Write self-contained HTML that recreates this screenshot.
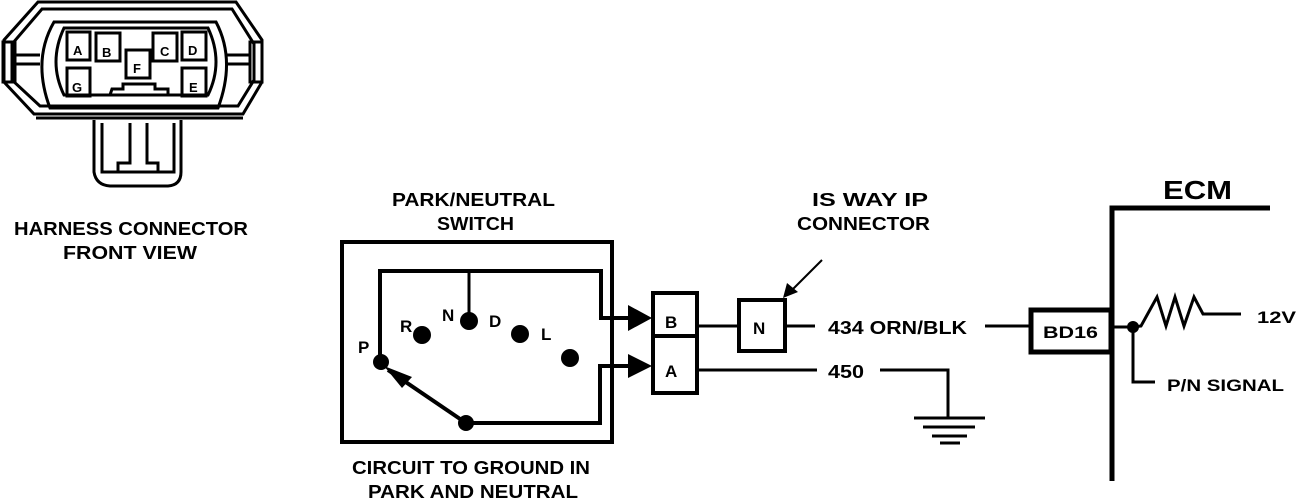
<!DOCTYPE html>
<html><head><meta charset="utf-8"><style>
html,body{margin:0;padding:0;background:#fff;}
svg{display:block;}
text{font-family:"Liberation Sans",sans-serif;font-weight:bold;fill:#000;}
</style></head><body>
<svg width="1312" height="502" viewBox="0 0 1312 502" xmlns="http://www.w3.org/2000/svg">
<g fill="none" stroke="#000" stroke-width="3">
  <path d="M38 2 L236 2 L262 40 L262 82 L243 114 L34 114 L4 82 L4 40 Z"/>
  <path d="M42 9 L232 9 L254 44 L254 80 L238 106 L40 106 L12 80 L12 44 Z"/>
  <path d="M54 22 L216 22 Q236 60 218 108 L50 108 Q32 60 54 22 Z"/>
  <path d="M64 28 L208 28 Q224 62 208 95 L64 95 Q48 62 64 28 Z"/>
  <line x1="36" y1="118" x2="243" y2="118"/>
  <rect x="3" y="42" width="12" height="40"/>
  <rect x="250" y="42" width="12" height="40"/>
  <line x1="15" y1="55" x2="40" y2="55"/><line x1="15" y1="64" x2="40" y2="64"/>
  <line x1="226" y1="55" x2="250" y2="55"/><line x1="226" y1="64" x2="250" y2="64"/>
  <rect x="67" y="32" width="23" height="28"/>
  <rect x="96" y="33" width="24" height="28"/>
  <rect x="126" y="50" width="24" height="28"/>
  <rect x="153" y="33" width="24" height="28"/>
  <rect x="182" y="32" width="24" height="28"/>
  <rect x="67" y="68" width="23" height="28"/>
  <rect x="182" y="68" width="24" height="28"/>
  <path d="M110 95 L112 89 L123 89 L123 84 L155 84 L155 89 L168 89 L168 95"/>
  <path d="M94 120 L94 172 Q96 185 110 186 L168 186 Q181 185 181 172 L181 120"/>
  <path d="M102 123 L102 172 L174 172 L174 123"/>
  <path d="M130 123 L130 163 L118 163 L118 172 M147 123 L147 163 L158 163 L158 172"/>
</g>
<g font-size="13">
  <text x="73" y="55">A</text><text x="102" y="57">B</text><text x="133" y="73">F</text>
  <text x="160" y="56">C</text><text x="188" y="55">D</text><text x="72" y="92">G</text><text x="189" y="92">E</text>
</g>
<text x="14" y="235" font-size="18" textLength="234" lengthAdjust="spacingAndGlyphs">HARNESS CONNECTOR</text>
<text x="63" y="259" font-size="18" textLength="134" lengthAdjust="spacingAndGlyphs">FRONT  VIEW</text>

<text x="392" y="206" font-size="18" textLength="163" lengthAdjust="spacingAndGlyphs">PARK/NEUTRAL</text>
<text x="437" y="230" font-size="18" textLength="77" lengthAdjust="spacingAndGlyphs">SWITCH</text>
<text x="352" y="474" font-size="18" textLength="238" lengthAdjust="spacingAndGlyphs">CIRCUIT TO GROUND IN</text>
<text x="368" y="498" font-size="18" textLength="210" lengthAdjust="spacingAndGlyphs">PARK AND NEUTRAL</text>
<g fill="none" stroke="#000">
  <rect x="342" y="242" width="270" height="200" stroke-width="4"/>
  <path d="M380 362 L380 271 L601 271 L601 318 L640 318" stroke-width="4"/>
  <line x1="469" y1="271" x2="469" y2="320" stroke-width="3"/>
  <path d="M466 423 L600 423 L600 366 L640 366" stroke-width="4"/>
  <line x1="466" y1="423" x2="388" y2="370" stroke-width="4"/>
  <rect x="653" y="293" width="44" height="43" stroke-width="4"/>
  <rect x="653" y="336" width="44" height="57" stroke-width="4"/>
  <rect x="739" y="300" width="46" height="51" stroke-width="4"/>
  <line x1="697" y1="326" x2="739" y2="326" stroke-width="3"/>
  <line x1="785" y1="326" x2="815" y2="326" stroke-width="3"/>
  <line x1="985" y1="326" x2="1032" y2="326" stroke-width="3"/>
  <line x1="697" y1="370" x2="817" y2="370" stroke-width="3"/>
  <path d="M880 370 L948 370 L948 418" stroke-width="3"/>
  <line x1="914" y1="418" x2="985" y2="418" stroke-width="3"/>
  <line x1="923" y1="427" x2="975" y2="427" stroke-width="3"/>
  <line x1="932" y1="436" x2="967" y2="436" stroke-width="3"/>
  <line x1="940" y1="443" x2="960" y2="443" stroke-width="3"/>
  <line x1="822" y1="260" x2="790" y2="292" stroke-width="2"/>
  <rect x="1031" y="310" width="80" height="42" stroke-width="5"/>
  <path d="M1112 481 L1112 208 L1270 208" stroke-width="5"/>
  <line x1="1112" y1="327" x2="1133" y2="327" stroke-width="3"/>
  <path d="M1133 327 L1133 382 L1155 382" stroke-width="3"/>
  <path d="M1133 327 L1141 326 L1157 297 L1166 326 L1175 297 L1184 326 L1194 297 L1203 314 L1215 314 L1241 314" stroke-width="3"/>
</g>
<g fill="#000">
  <circle cx="381" cy="362" r="8"/>
  <circle cx="422" cy="335" r="9"/>
  <circle cx="469" cy="321" r="9"/>
  <circle cx="520" cy="334" r="9"/>
  <circle cx="570" cy="358" r="9"/>
  <circle cx="466" cy="423" r="8"/>
  <circle cx="1133" cy="327" r="6"/>
  <polygon points="628,305 652,318 628,331"/>
  <polygon points="628,354 652,366 628,378"/>
  <polygon points="384,366 412,377 402,388"/>
  <polygon points="783,298 787,283 798,292"/>
</g>
<g font-size="17">
  <text x="358" y="353">P</text><text x="400" y="332">R</text><text x="442" y="321">N</text>
  <text x="489" y="327">D</text><text x="541" y="340">L</text>
  <text x="665" y="328">B</text><text x="665" y="377">A</text>
  <text x="753" y="334">N</text>
</g>
<text x="812" y="206" font-size="18" textLength="116" lengthAdjust="spacingAndGlyphs">IS WAY IP</text>
<text x="797" y="230" font-size="18" textLength="133" lengthAdjust="spacingAndGlyphs">CONNECTOR</text>
<text x="828" y="334" font-size="18" textLength="139" lengthAdjust="spacingAndGlyphs">434  ORN/BLK</text>
<text x="828" y="378" font-size="18" textLength="36" lengthAdjust="spacingAndGlyphs">450</text>
<text x="1043" y="338" font-size="17" textLength="55" lengthAdjust="spacingAndGlyphs">BD16</text>
<text x="1163" y="199" font-size="26" textLength="69" lengthAdjust="spacingAndGlyphs">ECM</text>
<text x="1257" y="323" font-size="17" textLength="39" lengthAdjust="spacingAndGlyphs">12V</text>
<text x="1167" y="391" font-size="17" textLength="117" lengthAdjust="spacingAndGlyphs">P/N SIGNAL</text>
</svg>
</body></html>
